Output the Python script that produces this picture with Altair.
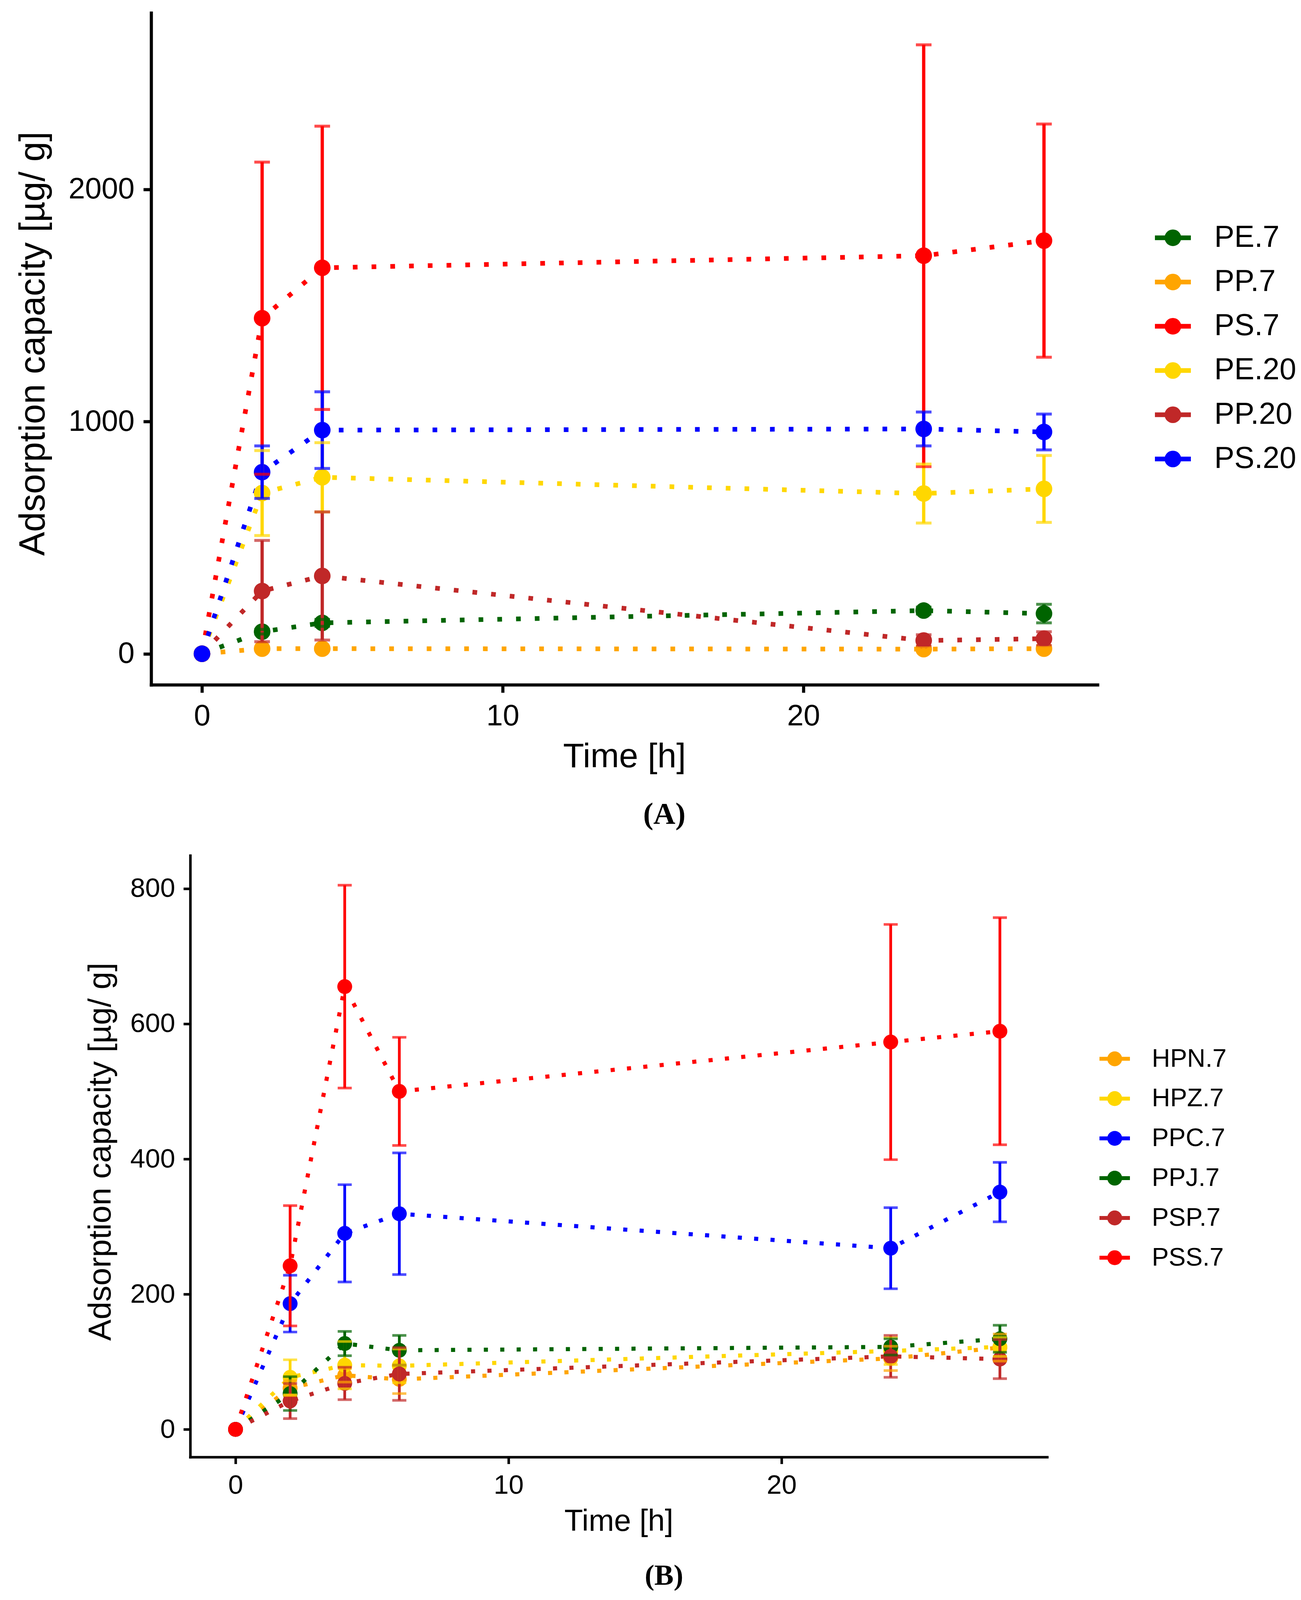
import altair as alt
import pandas as pd

# ---------------- Panel A data ----------------
times_a = [0, 2, 4, 24, 28]
series_a = ["PE.7", "PP.7", "PS.7", "PE.20", "PP.20", "PS.20"]
colors_a = ["#006400", "#FFA500", "#FF0000", "#FFD700", "#C02828", "#0000FF"]

pe7_mean = [0, 95, 133, 186, 173]
pe7_sd = [0, 10, 15, 15, 40]
pp7_mean = [0, 22, 22, 20, 22]
pp7_sd = [0, 5, 5, 5, 5]
ps7_mean = [0, 1445, 1662, 1714, 1779]
ps7_sd = [0, 672, 610, 908, 502]
pe20_mean = [0, 692, 760, 690, 710]
pe20_sd = [0, 183, 149, 127, 144]
pp20_mean = [0, 270, 335, 57, 65]
pp20_sd = [0, 218, 276, 25, 30]
ps20_mean = [0, 782, 963, 968, 955]
ps20_sd = [0, 113, 165, 73, 77]

# ---------------- Panel B data ----------------
times_b = [0, 2, 4, 6, 24, 28]
series_b = ["HPN.7", "HPZ.7", "PPC.7", "PPJ.7", "PSP.7", "PSS.7"]
colors_b = ["#FFA500", "#FFD700", "#0000FF", "#006400", "#C02828", "#FF0000"]

hpn_mean = [0, 61, 80, 74, 105, 121]
hpn_sd = [0, 11, 10, 21, 18, 20]
hpz_mean = [0, 77, 95, 94, 116, 122]
hpz_sd = [0, 26, 35, 25, 20, 14]
ppc_mean = [0, 186, 290, 319, 268, 351]
ppc_sd = [0, 42, 72, 90, 60, 44]
ppj_mean = [0, 53, 127, 117, 122, 134]
ppj_sd = [0, 25, 18, 22, 12, 20]
psp_mean = [0, 42, 68, 82, 108, 104]
psp_sd = [0, 26, 24, 39, 31, 29]
pss_mean = [0, 242, 655, 500, 573, 589]
pss_sd = [0, 89, 150, 80, 174, 168]


def long_frame(times, names, means, sds):
    rows = []
    for name, m, s in zip(names, means, sds):
        for t, mv, sv in zip(times, m, s):
            rows.append({"series": name, "time": t, "mean": mv,
                         "lo": mv - sv, "hi": mv + sv, "sd": sv})
    return pd.DataFrame(rows)


df_a = long_frame(times_a, series_a,
                  [pe7_mean, pp7_mean, ps7_mean, pe20_mean, pp20_mean, ps20_mean],
                  [pe7_sd, pp7_sd, ps7_sd, pe20_sd, pp20_sd, ps20_sd])
df_b = long_frame(times_b, series_b,
                  [hpn_mean, hpz_mean, ppc_mean, ppj_mean, psp_mean, pss_mean],
                  [hpn_sd, hpz_sd, ppc_sd, ppj_sd, psp_sd, pss_sd])

FONT = "Liberation Sans"


def make_panel(df, names, colors, xdom, ydom, xvals, yvals, w, h, legy, s, label):
    shift = s.get("shift", 0)
    wt = w + shift
    ax_common = dict(grid=False, domainColor="black", domainWidth=s["dw"],
                     domainCap="square", tickColor="black", tickWidth=s["dw"],
                     tickSize=s["ts"], labelFont=FONT, labelFontSize=s["lfs"],
                     labelColor="black", labelFlush=False, labelOverlap=False,
                     labelLimit=1000, format="d",
                     titleFont=FONT, titleFontWeight="normal", titleColor="black")
    xaxis = alt.Axis(values=xvals, title="Time [h]", titleFontSize=s["xtfs"],
                     titleY=s["xty"], titleBaseline="middle",
                     labelPadding=s["xlp"], **ax_common)
    yaxis = alt.Axis(values=yvals, title="Adsorption capacity [µg/ g]",
                     titleFontSize=s["ytfs"], titleX=s["ytx"], titleY=s["yty"],
                     titleAngle=270, titleBaseline="middle", titleAlign="center",
                     labelPadding=s["ylp"], offset=-shift, **ax_common)
    xs = alt.Scale(domain=xdom, nice=False, zero=False, range=[shift, wt])
    ys = alt.Scale(domain=ydom, nice=False, zero=False)
    col = alt.Color("series:N", scale=alt.Scale(domain=names, range=colors),
                    legend=None)
    x = alt.X("time:Q", scale=xs, axis=xaxis)

    base = alt.Chart(df)
    err = alt.Chart(df[df["sd"] > 0])

    line = base.mark_line(strokeDash=[s["lw"], 3 * s["lw"]], strokeWidth=s["lw"],
                          strokeCap="butt").encode(
        x=x, y=alt.Y("mean:Q", scale=ys, axis=yaxis), color=col)
    pts = base.mark_circle(size=s["ps"], opacity=1).encode(
        x=x, y=alt.Y("mean:Q", scale=ys, axis=yaxis), color=col)
    rule = err.mark_rule(strokeWidth=s["ew"]).encode(
        x=x, y=alt.Y("lo:Q", scale=ys, axis=yaxis), y2="hi:Q", color=col)
    cap_lo = err.mark_tick(orient="horizontal", size=s["cw"], thickness=s["ct"]).encode(
        x=x, y=alt.Y("lo:Q", scale=ys, axis=yaxis), color=col)
    cap_hi = err.mark_tick(orient="horizontal", size=s["cw"], thickness=s["ct"]).encode(
        x=x, y=alt.Y("hi:Q", scale=ys, axis=yaxis), color=col)
    plot = alt.layer(line, pts, rule, cap_lo, cap_hi)

    # manual legend (ggplot-like key: line through a dot)
    ldf = pd.DataFrame({"series": names, "k": list(range(len(names)))})
    ly = alt.Y("k:Q", scale=alt.Scale(domain=[0, len(names) - 1], range=legy), axis=None)
    lbase = alt.Chart(ldf)
    lx1 = wt + s["lx1"]
    lx2 = wt + s["lx2"]
    lr = lbase.mark_rule(strokeWidth=s["llw"]).encode(
        x=alt.value(lx1), x2=alt.value(lx2), y=ly, color=col)
    lp = lbase.mark_circle(size=s["ps"], opacity=1).encode(
        x=alt.value((lx1 + lx2) / 2), y=ly, color=col)
    lt = lbase.mark_text(align="left", baseline="middle", font=FONT,
                         fontSize=s["legfs"], color="black").encode(
        x=alt.value(wt + s["ltx"]), y=ly, text="series:N")
    legend = alt.layer(lr, lp, lt)

    return alt.layer(plot, legend).resolve_scale(y="independent").properties(
        width=wt, height=h,
        title=alt.Title(label, orient="bottom", anchor="middle", frame="group",
                        font="Liberation Serif", fontSize=s["tfs"], fontWeight="bold",
                        color="black", offset=s["toff"], dx=s["tdx"], baseline="top"))


sA = dict(dw=8, ts=20, lfs=76, xtfs=88, xty=184.6, xlp=23, ytfs=92, ytx=-302,
          yty=846.5, ylp=23, lw=12, ps=1810, ew=8.4, cw=40, ct=7.5,
          llw=12, lx1=147, lx2=239, ltx=299, legfs=77,
          tfs=78, toff=65.5, tdx=102.5)
sB = dict(dw=6.5, ts=17.5, lfs=69, xtfs=78, xty=165, xlp=20.6, ytfs=82, ytx=-230,
          yty=758, ylp=21.4, lw=10.5, ps=1452, ew=7, cw=36, ct=6.7,
          llw=10, lx1=134, lx2=212, ltx=268, legfs=65,
          tfs=74, toff=64.5, tdx=166, shift=100)

wA, hA = 2423, 1720
wB, hB = 2194, 1540

panelA = make_panel(df_a, series_a, colors_a, [-1.69, 29.78], [-133.5, 2759.6],
                    [0, 10, 20], [0, 1000, 2000], wA, hA, [575.7, 1142], sA, "(A)")
panelB = make_panel(df_b, series_b, colors_b, [-1.66, 29.73], [-40.9, 849],
                    [0, 10, 20], [0, 200, 400, 600, 800], wB, hB, [520.6, 1029.7],
                    sB, "(B)")

chart = alt.vconcat(panelA, panelB, spacing=64).resolve_scale(
    x="independent", y="independent", color="independent").properties(
    padding={"left": 31, "top": 25, "right": 0, "bottom": 0},
    background="white").configure_view(stroke=None)

chart.save("out.html", embed_options={"renderer": "svg", "actions": False})
